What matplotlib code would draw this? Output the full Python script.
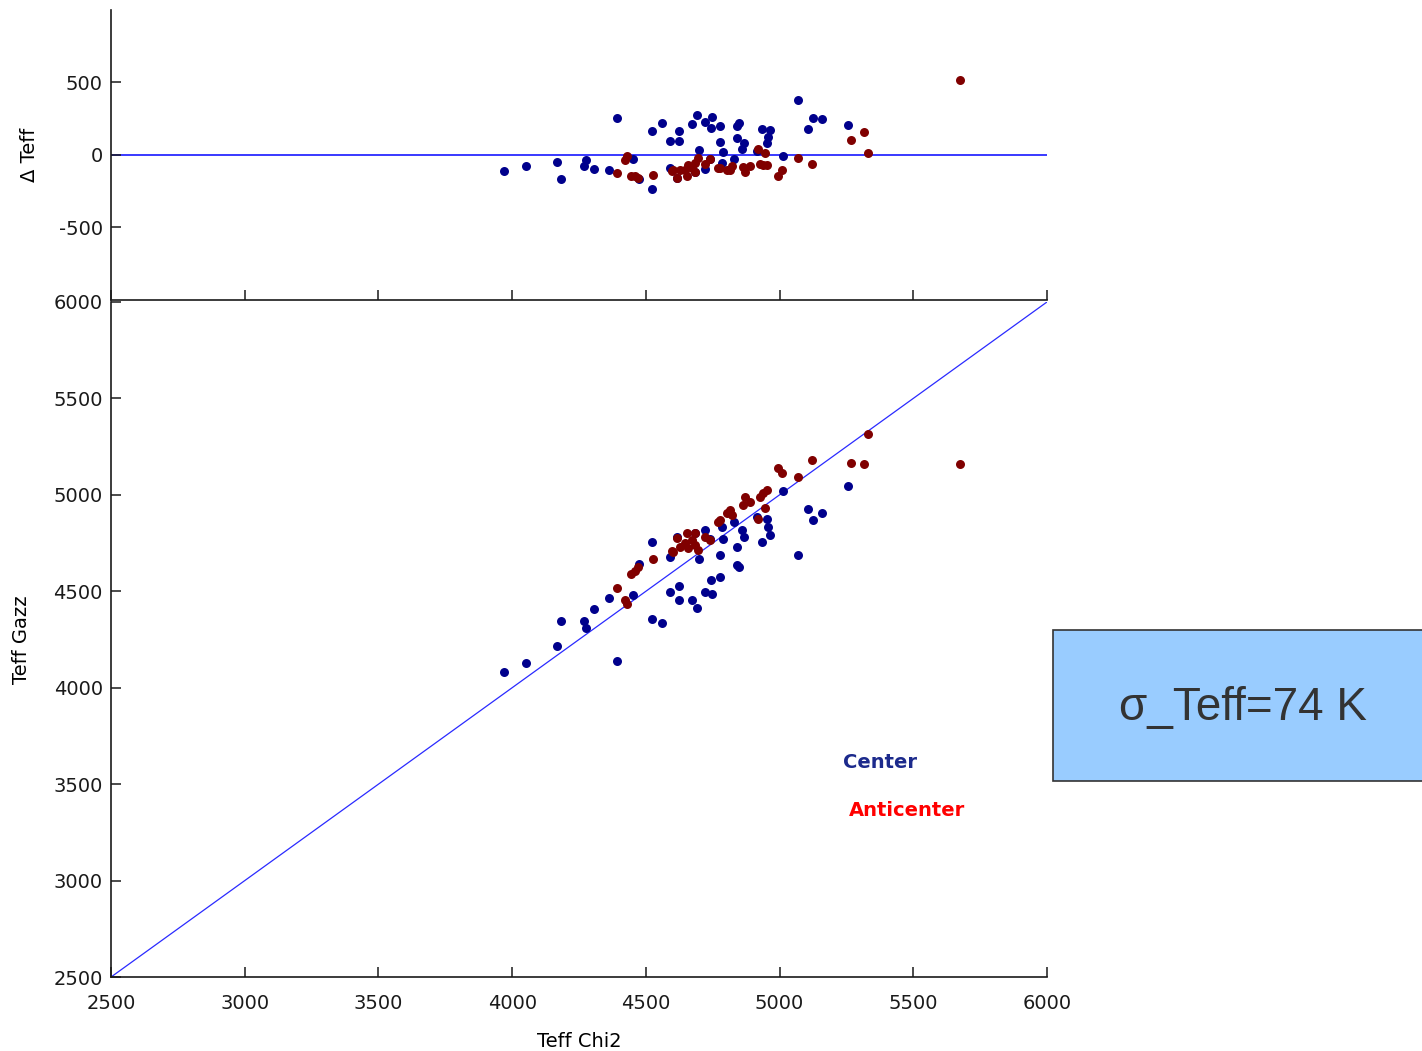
import matplotlib
matplotlib.use("Agg")
import matplotlib.pyplot as plt
import numpy as np
from matplotlib.patches import Rectangle

# Center stars (Teff from chi2 fit vs Teff from Gazzano)
chi2_center = [3970, 4052, 4169, 4182, 4270, 4276, 4307, 4363, 4393, 4453,
               4476, 4522, 4524, 4560, 4590, 4590, 4625, 4622, 4671, 4692,
               4722, 4748, 4742, 4777, 4777, 4700, 4722, 4740, 4618, 4685,
               4790, 4783, 4830, 4842, 4839, 4848, 4858, 4867, 4914, 4933,
               4954, 4958, 4964, 5011, 5070, 5107, 5126, 5157, 5257]
gazz_center = [4083, 4127, 4216, 4346, 4346, 4308, 4407, 4467, 4139, 4481,
               4641, 4757, 4356, 4337, 4679, 4495, 4529, 4455, 4455, 4415,
               4498, 4484, 4559, 4576, 4688, 4666, 4818, 4771, 4780, 4801,
               4770, 4835, 4861, 4728, 4636, 4627, 4818, 4783, 4887, 4757,
               4873, 4835, 4792, 5020, 4688, 4927, 4870, 4907, 5048]

# Anticenter stars
chi2_anti = [4392, 4422, 4430, 4444, 4459, 4470, 4527, 4598, 4616, 4628,
             4601, 4646, 4654, 4673, 4684, 4658, 4684, 4695, 4721, 4740,
             4770, 4777, 4803, 4815, 4822, 4863, 4871, 4889, 4919, 4927,
             4938, 4953, 4946, 4994, 5009, 5069, 5121, 5267, 5316, 5331, 5675]
gazz_anti = [4517, 4455, 4434, 4590, 4605, 4626, 4667, 4709, 4776, 4730,
             4704, 4750, 4802, 4766, 4802, 4724, 4740, 4714, 4781, 4766,
             4859, 4870, 4906, 4921, 4896, 4947, 4989, 4963, 4875, 4989,
             5010, 5025, 4932, 5139, 5113, 5093, 5181, 5165, 5160, 5316, 5160]

x_ticks = [2500, 3000, 3500, 4000, 4500, 5000, 5500, 6000]
y_ticks = [2500, 3000, 3500, 4000, 4500, 5000, 5500, 6000]
d_ticks = [-500, 0, 500]
sigma_text = "σ_Teff=74 K"

C_BLUE = "#00008c"
C_RED = "#800000"
C_LINE = "#2a2aff"
MS = 42

dc = np.array(chi2_center) - np.array(gazz_center)
da = np.array(chi2_anti) - np.array(gazz_anti)

plt.rcParams["font.family"] = ["DejaVu Sans"]
plt.rcParams["axes.unicode_minus"] = False
fig = plt.figure(figsize=(14.22, 10.51), dpi=100)

ax1 = fig.add_axes([0.0781, 0.7146, 0.6582, 0.2759])
ax2 = fig.add_axes([0.0781, 0.0704, 0.6582, 0.6423])

for ax in (ax1, ax2):
    ax.spines["top"].set_visible(False)
    ax.spines["right"].set_visible(False)
    for s in ("left", "bottom"):
        ax.spines[s].set_linewidth(1.2)
        ax.spines[s].set_color("#1a1a1a")
    ax.tick_params(direction="in", length=7, width=1.1, labelsize=14,
                   colors="#1a1a1a", pad=6)
    ax.set_xlim(2500, 6000)
    ax.set_xticks(x_ticks)

# top panel: difference
ax1.set_ylim(-1000, 1000)
ax1.set_yticks(d_ticks)
ax1.tick_params(axis="x", labelbottom=False)
ax1.axhline(0, color=C_LINE, lw=1.3, zorder=1)
ax1.scatter(chi2_center, dc, s=MS, color=C_BLUE, zorder=2, linewidths=0)
ax1.scatter(chi2_anti, da, s=MS, color=C_RED, zorder=3, linewidths=0)
ax1.set_ylabel("Δ Teff", fontsize=14, labelpad=14)

# bottom panel: one-to-one comparison
ax2.set_ylim(2500, 6000)
ax2.set_yticks(y_ticks)
ax2.tick_params(axis="x", pad=12)
ax2.plot([2500, 6000], [2500, 6000], color=C_LINE, lw=0.9, zorder=1)
ax2.scatter(chi2_center, gazz_center, s=MS, color=C_BLUE, zorder=2, linewidths=0)
ax2.scatter(chi2_anti, gazz_anti, s=MS, color=C_RED, zorder=3, linewidths=0)
ax2.set_xlabel("Teff Chi2", fontsize=14, labelpad=14)
ax2.set_ylabel("Teff Gazz", fontsize=14, labelpad=16)

fig.text(880 / 1422, 1 - 762 / 1051, "Center", color="#1c2a8c", fontsize=14,
         fontweight="bold", ha="center", va="center")
fig.text(907 / 1422, 1 - 811 / 1051, "Anticenter", color="#ff0000", fontsize=14,
         fontweight="bold", ha="center", va="center")

# sigma box
box = Rectangle((1053 / 1422, 1 - 781 / 1051), 0.27, 151 / 1051,
                transform=fig.transFigure, facecolor="#99ccff",
                edgecolor="#333333", lw=1.2, clip_on=False)
fig.patches.append(box)
fig.text(1243 / 1422, 1 - 708 / 1051, sigma_text, fontsize=33,
         family=["Liberation Sans", "DejaVu Sans"], color="#333333",
         ha="center", va="center")

fig.savefig("out.png", dpi=100)
